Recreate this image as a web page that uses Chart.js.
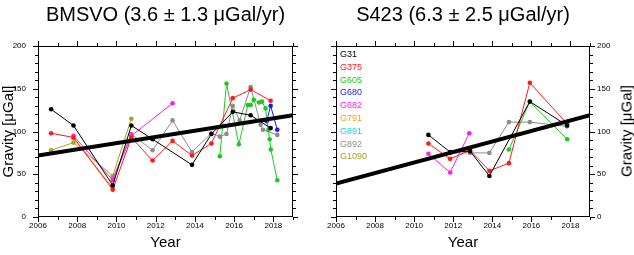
<!DOCTYPE html>
<html><head><meta charset="utf-8">
<script src="https://cdn.jsdelivr.net/npm/chart.js@4.4.0/dist/chart.umd.min.js"></script>
<style>
html,body{margin:0;padding:0;background:#fff;}
#wrap{position:relative;width:634px;height:255px;overflow:hidden;font-family:"Liberation Sans",Arial,sans-serif;}
canvas{position:absolute;top:0;}
#c1{left:0}
#c2{left:317px}
#legend{position:absolute;left:340px;top:48px;font-size:9px;line-height:12.8px;}
#ytitle2{position:absolute;left:626px;top:131px;transform:translate(-50%,-50%) rotate(-90deg);font-size:15px;white-space:nowrap;color:#000;}
</style></head>
<body><div id="wrap">
<canvas id="c1" width="317" height="255"></canvas>
<canvas id="c2" width="317" height="255"></canvas>
<div id="legend"></div>
<div id="ytitle2">Gravity [μGal]</div>
</div>
<script>
// ---------- DATA ----------
const legendNames = ['G31','G375','G605','G680','G682','G791','G891','G892','G1090'];
const xTickYears = [2006, 2008, 2010, 2012, 2014, 2016, 2018];
const yTickValues = [0, 50, 100, 150, 200];

// Panel 1: BMSVO
const bmsvoTitle = 'BMSVO (3.6 \u00b1 1.3 \u03bcGal/yr)';
const bmsvo_G31_year = [2006.67, 2007.81, 2009.81, 2010.76, 2011.84, 2013.85, 2014.84, 2015.93, 2016.84, 2017.86];
const bmsvo_G31_grav = [126, 107, 37, 107, 91, 61, 97, 123, 119, 104];
const bmsvo_G375_year = [2006.67, 2007.81, 2009.81, 2010.76, 2011.84, 2012.86, 2013.85, 2014.84, 2015.93, 2016.84, 2017.86];
const bmsvo_G375_grav = [98, 93, 32, 93, 66, 89, 72, 86, 139, 149, 136];
const bmsvo_G605_year = [2015.27, 2015.61, 2016.24, 2016.70, 2016.84, 2017.00, 2017.27, 2017.42, 2017.60, 2017.74, 2017.81, 2017.87, 2018.20];
const bmsvo_G605_grav = [71, 156, 85, 131, 131, 137, 134, 135, 127, 102, 91, 79, 43];
const bmsvo_G680_year = [2017.66, 2017.86, 2018.20];
const bmsvo_G680_grav = [112, 130, 102];
const bmsvo_G682_year = [2007.81, 2009.81, 2010.76, 2012.86];
const bmsvo_G682_grav = [95, 43, 95, 133];
const bmsvo_G791_year = [2007.81, 2009.81];
const bmsvo_G791_grav = [92, 34];
const bmsvo_G892_year = [2009.81, 2010.76, 2011.84, 2012.86, 2013.85, 2014.84, 2015.27, 2015.61, 2015.93, 2016.28, 2016.84, 2017.35, 2017.47, 2018.20];
const bmsvo_G892_grav = [45, 97, 78, 113, 76, 98, 94, 97, 130, 113, 152, 108, 102, 96];
const bmsvo_G1090_year = [2006.67, 2007.81, 2009.81, 2010.76];
const bmsvo_G1090_grav = [78, 87, 48, 115];
const bmsvo_trend_year = [2006, 2019];
const bmsvo_trend_grav = [72, 119];

// Panel 2: S423
const s423Title = 'S423 (6.3 \u00b1 2.5 \u03bcGal/yr)';
const s423_G31_year = [2010.73, 2011.84, 2012.86, 2013.85, 2015.92, 2017.83];
const s423_G31_grav = [96, 76, 77, 48, 135, 107];
const s423_G375_year = [2010.73, 2011.84, 2012.86, 2013.85, 2014.85, 2015.92, 2017.83];
const s423_G375_grav = [86, 68, 78, 54, 63, 157, 109];
const s423_G605_year = [2014.85, 2015.92, 2017.83];
const s423_G605_grav = [79, 135, 91];
const s423_G682_year = [2010.73, 2011.84, 2012.82];
const s423_G682_grav = [74, 52, 98];
const s423_G892_year = [2011.84, 2012.86, 2013.85, 2014.85, 2015.92, 2017.83];
const s423_G892_grav = [75, 75, 75, 111, 111, 106];
const s423_trend_year = [2006, 2019];
const s423_trend_grav = [39, 119];

// ---------- STYLE ----------
const seriesColors = {
  G31:'#000000', G375:'#ff1a1a', G605:'#1ec81e', G680:'#1a1aff', G682:'#ff1aff',
  G791:'#ff9a1a', G891:'#1ad2d2', G892:'#8c8c8c', G1090:'#a5a51e'
};
const FONT = '"Liberation Sans", Arial, Helvetica, sans-serif';
Chart.defaults.font.family = FONT;
Chart.defaults.color = '#000';

function pts(xs, ys){ return xs.map((x,i)=>({x:x, y:ys[i]})); }

function buildDatasets(series, trendX, trendY){
  const ds = [{
    label:'trend', data:pts(trendX, trendY), showLine:true,
    borderColor:'#000', borderWidth:4, pointRadius:0, borderCapStyle:'butt'
  }];
  series.forEach(s=>{
    ds.push({
      label:s.name, data:pts(s.year, s.grav), showLine:true,
      borderColor:seriesColors[s.name], backgroundColor:seriesColors[s.name],
      borderWidth:1, pointRadius:2.3, pointBorderWidth:0
    });
  });
  return ds;
}

const framePlugin = {
  id:'frame',
  afterDatasetsDraw(chart){
    const {ctx, chartArea:a, scales} = chart;
    const xs = scales.x, ys = scales.y;
    ctx.save();
    ctx.strokeStyle = '#000';
    ctx.lineWidth = 1;
    ctx.strokeRect(a.left+0.5, a.top+0.5, a.right-a.left-1, a.bottom-a.top-1);
    ctx.beginPath();
    for(let v=xs.min; v<=xs.max; v+=1){
      const p = Math.round(xs.getPixelForValue(v))+0.5;
      const len = (v%2===0)?5:3;
      ctx.moveTo(p, a.bottom); ctx.lineTo(p, a.bottom+len);
      ctx.moveTo(p, a.top); ctx.lineTo(p, a.top-len);
    }
    for(let v=ys.min; v<=ys.max; v+=10){
      const p = Math.round(ys.getPixelForValue(v))+0.5;
      const len = (v%50===0)?5:3;
      ctx.moveTo(a.left, p); ctx.lineTo(a.left-len, p);
      ctx.moveTo(a.right, p); ctx.lineTo(a.right+len, p);
    }
    ctx.stroke();
    ctx.restore();
  }
};

function makeChart(canvasId, title, datasets, side){
  const yLeft = side==='left';
  return new Chart(document.getElementById(canvasId), {
    type:'scatter',
    data:{datasets:datasets},
    options:{
      responsive:false, animation:false, events:[], devicePixelRatio:1,
      layout:{padding: yLeft ? {left:0,right:24,top:0,bottom:0} : {left:19,right:0,top:0,bottom:0}},
      plugins:{
        legend:{display:false}, tooltip:{enabled:false},
        title:{display:true, text:title, fullSize:false, color:'#000',
          font:{size:20, weight:'normal', family:FONT}, padding:{top:3,bottom:19}}
      },
      scales:{
        x:{type:'linear', min:2006, max:2019,
          grid:{display:false, drawTicks:false}, border:{display:false},
          ticks:{stepSize:1, autoSkip:false, maxRotation:0, color:'#000', font:{size:8}, padding:4,
            callback:(v)=> xTickYears.includes(Math.round(v)) ? String(Math.round(v)) : ''},
          title:{display:true, text:'Year', color:'#000', font:{size:15}, padding:{top:0,bottom:3.5}},
          afterFit:(s)=>{ s.height = 38; }
        },
        y:{type:'linear', position: yLeft?'left':'right', min:0, max:200,
          grid:{display:false, drawTicks:false}, border:{display:false},
          ticks:{stepSize:10, autoSkip:false, color:'#000', font:{size:8}, padding: yLeft?12:7,
            callback:(v)=> yTickValues.includes(Math.round(v)) ? String(Math.round(v)) : ''},
          title:{display: yLeft, text:'Gravity [\u03bcGal]', color:'#000', font:{size:15}, padding:{top:0,bottom:0}},
          afterFit:(s)=>{ s.width = yLeft ? 38 : 44; }
        }
      }
    },
    plugins:[framePlugin]
  });
}

const bmsvoSeries = [
  {name:'G31', year:bmsvo_G31_year, grav:bmsvo_G31_grav},
  {name:'G375', year:bmsvo_G375_year, grav:bmsvo_G375_grav},
  {name:'G605', year:bmsvo_G605_year, grav:bmsvo_G605_grav},
  {name:'G680', year:bmsvo_G680_year, grav:bmsvo_G680_grav},
  {name:'G682', year:bmsvo_G682_year, grav:bmsvo_G682_grav},
  {name:'G791', year:bmsvo_G791_year, grav:bmsvo_G791_grav},
  {name:'G892', year:bmsvo_G892_year, grav:bmsvo_G892_grav},
  {name:'G1090', year:bmsvo_G1090_year, grav:bmsvo_G1090_grav}
];
const s423Series = [
  {name:'G31', year:s423_G31_year, grav:s423_G31_grav},
  {name:'G375', year:s423_G375_year, grav:s423_G375_grav},
  {name:'G605', year:s423_G605_year, grav:s423_G605_grav},
  {name:'G682', year:s423_G682_year, grav:s423_G682_grav},
  {name:'G892', year:s423_G892_year, grav:s423_G892_grav}
];

makeChart('c1', bmsvoTitle, buildDatasets(bmsvoSeries, bmsvo_trend_year, bmsvo_trend_grav), 'left');
makeChart('c2', s423Title, buildDatasets(s423Series, s423_trend_year, s423_trend_grav), 'right');

const leg = document.getElementById('legend');
legendNames.forEach(n=>{
  const d = document.createElement('div');
  d.textContent = n;
  d.style.color = seriesColors[n];
  leg.appendChild(d);
});
</script>
</body></html>
